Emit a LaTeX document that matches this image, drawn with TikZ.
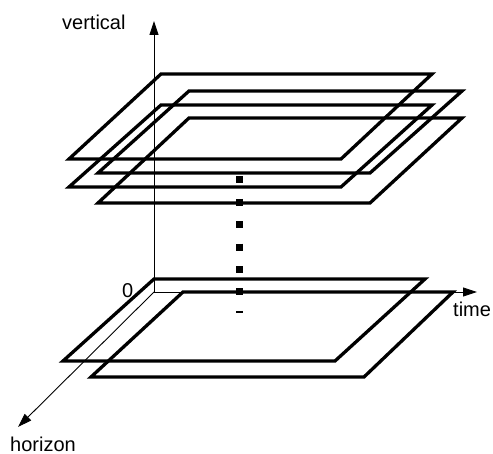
\documentclass[tikz,border=0pt]{standalone}
\usepackage{fontspec}
\setmainfont{Liberation Sans}
\usetikzlibrary{arrows.meta}
\tikzset{
  axis/.style={line width=0.9pt,-{Triangle[length=14pt,width=9pt]}},
  plane/.style={line width=3.3pt,line join=miter},
  lbl/.style={anchor=base west,inner sep=0pt,font=\fontsize{20}{23}\selectfont},
  dots/.style={line width=7pt,dash pattern=on 7pt off 15.4pt}
}
\begin{document}
\begin{tikzpicture}[x=1pt,y=-1pt]
\useasboundingbox (0,0) rectangle (493,454);
% axes
\coordinate (O) at (154,292);
\coordinate (V) at (154,21);
\coordinate (T) at (477,292);
\coordinate (H) at (18,427);
\draw[axis] (O) -- (V);
\draw[axis] (O) -- (T);
\draw[axis] (O) -- (H);
% upper planes
\draw[plane] (161,74) -- (432,74) -- (341,159) -- (69,159) -- cycle;
\draw[plane] (189,91) -- (462,91) -- (370,173) -- (98,173) -- cycle;
\draw[plane] (161,105) -- (432,105) -- (341,187) -- (69,187) -- cycle;
\draw[plane] (189,118) -- (462,118) -- (370,203) -- (98,203) -- cycle;
% lower planes
\draw[plane] (154,279) -- (425,279) -- (335,361) -- (63,361) -- cycle;
\draw[plane] (183,292) -- (453,292) -- (364,377) -- (91,377) -- cycle;
% dotted continuation
\coordinate (D1) at (239,176.5);
\coordinate (D2) at (239,313);
\draw[dots] (D1) -- (D2);
% labels
\node[lbl] (lv) at (62,30) {vertical};
\node[lbl] (lh) at (10,451) {horizon};
\node[lbl] (lt) at (453,317) {time};
\node[lbl] (l0) at (122,298) {0};
\end{tikzpicture}
\end{document}
